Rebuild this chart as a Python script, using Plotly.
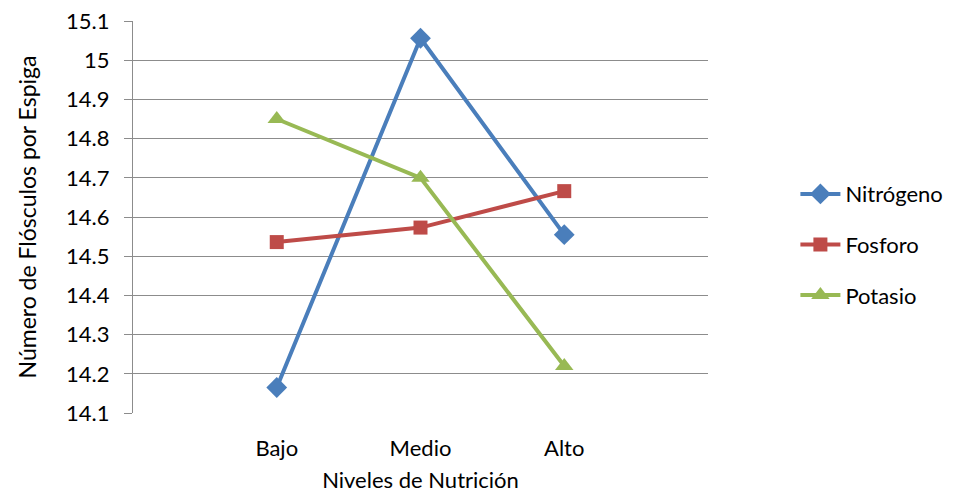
import plotly.graph_objects as go

categories = ["Bajo", "Medio", "Alto"]
nitrogeno = [14.165, 15.056, 14.555]
fosforo = [14.536, 14.573, 14.666]
potasio = [14.85, 14.70, 14.22]
y_ticks = [14.1, 14.2, 14.3, 14.4, 14.5, 14.6, 14.7, 14.8, 14.9, 15.0, 15.1]
y_tick_labels = ["14.1", "14.2", "14.3", "14.4", "14.5", "14.6", "14.7", "14.8", "14.9", "15", "15.1"]

FONT = "Lato, Carlito, 'Liberation Sans', sans-serif"
xpos = list(range(len(categories)))

fig = go.Figure()
series = [
    ("Nitrógeno", nitrogeno, "#4A7EBB", "diamond", 16),
    ("Fosforo", fosforo, "#BE4B48", "square", 14),
    ("Potasio", potasio, "#98B954", "triangle-up", 16),
]
for name, vals, color, sym, size in series:
    fig.add_trace(go.Scatter(
        x=xpos, y=vals, name=name, mode="lines+markers", legendgroup=name,
        line=dict(color=color, width=4),
        marker=dict(symbol=sym, size=size, color=color),
    ))

fig.update_layout(
    width=969, height=493,
    margin=dict(l=133, r=261, t=21, b=80),
    plot_bgcolor="white", paper_bgcolor="white",
    font=dict(family=FONT, size=22, color="#000000"),
    legend=dict(x=1.152, y=0.612, xanchor="left", yanchor="top",
                font=dict(size=22), itemwidth=40, tracegroupgap=19,
                bgcolor="rgba(0,0,0,0)"),
    xaxis=dict(
        range=[-1, 3], tickmode="array", tickvals=xpos, ticktext=categories,
        showgrid=False, zeroline=False, showline=False, automargin=False,
        ticks="outside", ticklen=16, tickcolor="rgba(0,0,0,0)",
        title=dict(text="Niveles de Nutrición", standoff=14, font=dict(size=22)),
    ),
    yaxis=dict(
        range=[14.1, 15.1], tickmode="array", tickvals=y_ticks, ticktext=y_tick_labels,
        showgrid=True, gridcolor="#8C8C8C", gridwidth=1.3,
        showline=True, linecolor="#8C8C8C", linewidth=1.3,
        ticks="outside", ticklen=8, tickcolor="#8C8C8C", tickwidth=1.3,
        ticklabelstandoff=10, automargin=False,
        zeroline=False,
        title=dict(text="Número de Flósculos por Espiga", standoff=22, font=dict(size=23)),
    ),
)
fig.write_html("out.html")
